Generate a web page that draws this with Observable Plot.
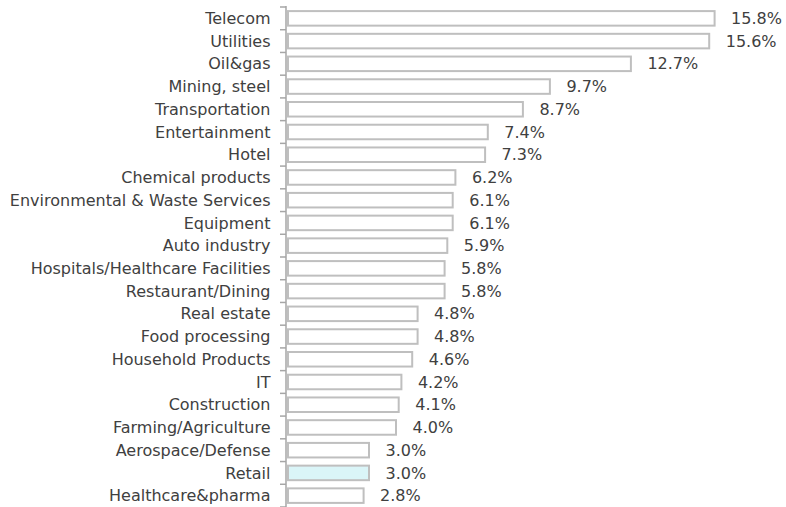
<!DOCTYPE html>
<html>
<head>
<meta charset="utf-8">
<script src="https://cdn.jsdelivr.net/npm/d3@7"></script>
<script src="https://cdn.jsdelivr.net/npm/@observablehq/plot@0.6"></script>
<style>
  html, body { margin: 0; padding: 0; background: #fff; }
  #chart svg { display: block; }
</style>
</head>
<body>
<div id="chart"></div>
<script>
const categories = ["Telecom","Utilities","Oil&gas","Mining, steel","Transportation","Entertainment","Hotel","Chemical products","Environmental & Waste Services","Equipment","Auto industry","Hospitals/Healthcare Facilities","Restaurant/Dining","Real estate","Food processing","Household Products","IT","Construction","Farming/Agriculture","Aerospace/Defense","Retail","Healthcare&pharma"];
const values = [15.8,15.6,12.7,9.7,8.7,7.4,7.3,6.2,6.1,6.1,5.9,5.8,5.8,4.8,4.8,4.6,4.2,4.1,4.0,3.0,3.0,2.8];
const highlight = "Retail";

const data = categories.map((name, i) => ({name, value: values[i]}));

const axisMark = (index, scales, channels, dimensions) => {
  const y = scales.y, x = scales.x;
  const step = y.step(), bw = y.bandwidth();
  const off = (step - bw) / 2;
  const x0 = x(0) - 2;
  const g = d3.create("svg:g").attr("stroke", "#a6a6a6").attr("stroke-width", 1.5).attr("fill", "none");
  const ys = categories.map(c => y(c) - off);
  ys.push(y(categories[categories.length - 1]) + bw + off);
  g.append("line").attr("x1", x0).attr("x2", x0).attr("y1", ys[0] - 1).attr("y2", ys[ys.length - 1]);
  for (const yy of ys) {
    g.append("line").attr("x1", x0 - 6).attr("x2", x0).attr("y1", yy).attr("y2", yy);
  }
  return g.node();
};

const chart = Plot.plot({
  width: 786,
  height: 507,
  marginLeft: 288,
  marginRight: 12,
  marginTop: 7,
  marginBottom: 0,
  style: {fontFamily: "DejaVu Sans, Verdana, sans-serif", fontSize: "16px", color: "#404040", background: "#fff"},
  x: {domain: [0, 18], axis: null},
  y: {domain: categories, paddingInner: 0.36, paddingOuter: 0.18, round: false, tickSize: 0, tickPadding: 18, label: null},
  marks: [
    Plot.barX(data, {x: "value", y: "name", fill: d => d.name === highlight ? "#daf5f8" : "#ffffff", stroke: "#bfbfbf", strokeWidth: 2}),
    Plot.text(data, {x: "value", y: "name", text: d => d.value.toFixed(1) + "%", textAnchor: "start", dx: 16, fill: "#404040", fontSize: 16}),
    axisMark
  ]
});
document.getElementById("chart").append(chart);
</script>
</body>
</html>
